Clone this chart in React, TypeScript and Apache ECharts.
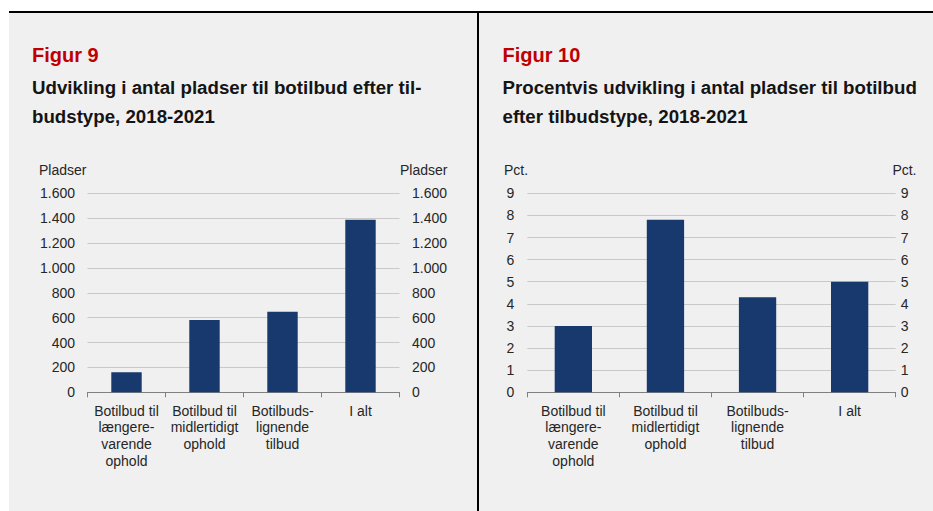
import React, { useEffect, useRef } from "react";
import * as echarts from "echarts";

const categories = [
  "Botilbud til\nlængere-\nvarende\nophold",
  "Botilbud til\nmidlertidigt\nophold",
  "Botilbuds-\nlignende\ntilbud",
  "I alt",
];
const pladserValues = [162, 582, 647, 1388];
const pctValues = [3.0, 7.8, 4.3, 5.0];

const leftFigur = "Figur 9";
const leftTitle = ["Udvikling i antal pladser til botilbud efter til-", "budstype, 2018-2021"];
const rightFigur = "Figur 10";
const rightTitle = ["Procentvis udvikling i antal pladser til botilbud", "efter tilbudstype, 2018-2021"];
const leftUnit = "Pladser";
const rightUnit = "Pct.";

const FONT = "'Liberation Sans', Arial, Helvetica, sans-serif";
const BAR = "#17396e";
const TXT = "#262626";
const GRID = "#c9c9c9";
const AXIS = "#808080";
const SMALL = 14;

function fmtThousands(v: number) {
  return String(v).replace(/\B(?=(\d{3})+(?!\d))/g, ".");
}

export default function App() {
  const ref = useRef<HTMLDivElement>(null);
  useEffect(() => {
    if (!ref.current) return;
    const chart = echarts.init(ref.current, undefined, { renderer: "svg" });
    const labelStyle = { fontFamily: FONT, fontSize: SMALL, color: TXT };
    const catAxis = (gridIndex: number) => ({
      type: "category" as const,
      gridIndex,
      data: categories,
      axisLine: { show: true, lineStyle: { color: AXIS, width: 1 } },
      axisTick: { show: true, length: 5, lineStyle: { color: AXIS } },
      axisLabel: { ...labelStyle, interval: 0, lineHeight: 16.7, margin: 10 },
    });
    const valAxis = (
      gridIndex: number,
      position: "left" | "right",
      max: number,
      interval: number,
      margin: number,
      split: boolean,
      fmt: (v: number) => string
    ) => ({
      type: "value" as const,
      gridIndex,
      position,
      min: 0,
      max,
      interval,
      axisLine: { show: false },
      axisTick: { show: false },
      splitLine: { show: split, lineStyle: { color: GRID, width: 1 } },
      axisLabel: { ...labelStyle, margin, formatter: fmt },
    });
    const txt = (
      text: string,
      x: number,
      y: number,
      size: number,
      weight: string,
      fill: string,
      align: string = "left"
    ) => ({
      type: "text",
      x,
      y,
      z: 10,
      style: {
        text,
        fontFamily: FONT,
        fontSize: size,
        fontWeight: weight,
        fill,
        align,
        verticalAlign: "middle",
      },
    });
    chart.setOption({
      animation: false,
      backgroundColor: "#ffffff",
      graphic: [
        { type: "rect", z: -10, shape: { x: 9, y: 12, width: 924, height: 499 }, style: { fill: "#f0f0f0" } },
        { type: "line", z: 5, shape: { x1: 9, y1: 12, x2: 933, y2: 12 }, style: { stroke: "#000", lineWidth: 2 } },
        { type: "line", z: 5, shape: { x1: 478, y1: 11, x2: 478, y2: 511 }, style: { stroke: "#000", lineWidth: 2 } },
        txt(leftFigur, 32, 54.5, 20, "bold", "#c00000"),
        txt(leftTitle[0], 32, 87, 18.7, "bold", "#141414"),
        txt(leftTitle[1], 32, 116, 18.7, "bold", "#141414"),
        txt(rightFigur, 502.5, 54.5, 20, "bold", "#c00000"),
        txt(rightTitle[0], 502.5, 87, 18.7, "bold", "#141414"),
        txt(rightTitle[1], 502.5, 116, 18.7, "bold", "#141414"),
        txt(leftUnit, 39, 169.5, SMALL, "normal", TXT),
        txt(leftUnit, 447.5, 169.5, SMALL, "normal", TXT, "right"),
        txt(rightUnit, 504, 169.5, SMALL, "normal", TXT),
        txt(rightUnit, 916.5, 169.5, SMALL, "normal", TXT, "right"),
      ],
      grid: [
        { left: 87.5, top: 193.3, width: 312, height: 199, containLabel: false },
        { left: 527.3, top: 193.3, width: 368.4, height: 199, containLabel: false },
      ],
      xAxis: [catAxis(0), catAxis(1)],
      yAxis: [
        valAxis(0, "left", 1600, 200, 12.5, true, fmtThousands),
        valAxis(0, "right", 1600, 200, 12.5, false, fmtThousands),
        valAxis(1, "left", 9, 1, 13, true, (v) => String(v)),
        valAxis(1, "right", 9, 1, 5, false, (v) => String(v)),
      ],
      series: [
        {
          type: "bar",
          xAxisIndex: 0,
          yAxisIndex: 0,
          data: pladserValues,
          barWidth: "39%",
          itemStyle: { color: BAR },
        },
        {
          type: "bar",
          xAxisIndex: 1,
          yAxisIndex: 2,
          data: pctValues,
          barWidth: "40.5%",
          itemStyle: { color: BAR },
        },
      ],
    });
    return () => chart.dispose();
  }, []);
  return (
    <div
      ref={ref}
      style={{ position: "fixed", left: 0, top: 0, width: 933, height: 511 }}
    />
  );
}
